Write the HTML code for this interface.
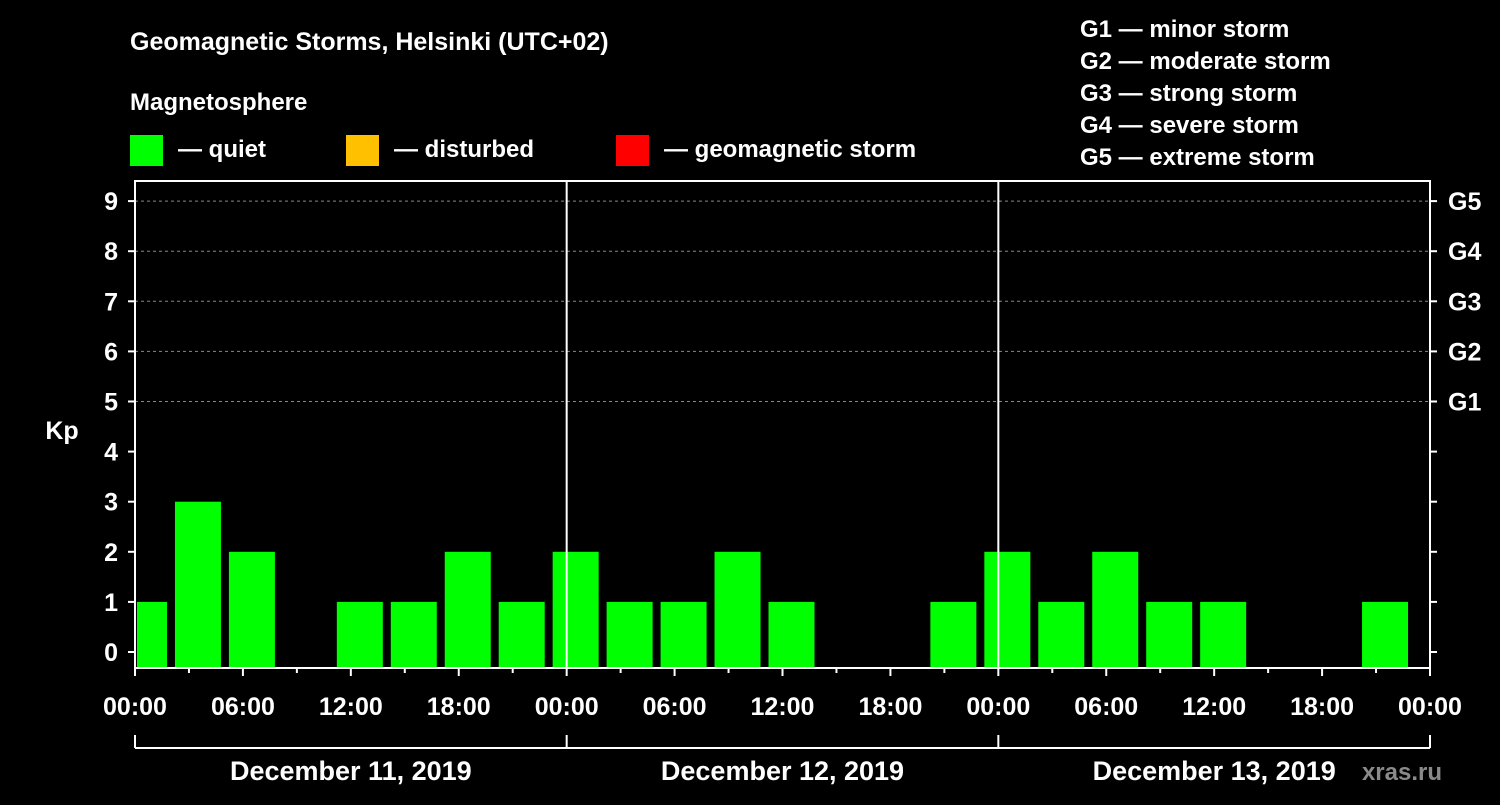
<!DOCTYPE html>
<html><head><meta charset="utf-8"><style>
body{margin:0;background:#000;}
svg text{font-family:"Liberation Sans",Arial,sans-serif;font-weight:bold;fill:#fff;}
</style></head><body>
<svg id="chart" width="1500" height="800" xmlns="http://www.w3.org/2000/svg">
<rect width="1500" height="800" fill="#000"/>
<text x="130" y="50" font-size="25">Geomagnetic Storms, Helsinki (UTC+02)</text>
<text x="130" y="110" font-size="24">Magnetosphere</text>
<g><rect x="130" y="135" width="33" height="31" fill="#00ff00"/><text x="178" y="157" font-size="24">— quiet</text></g>
<g><rect x="346" y="135" width="33" height="31" fill="#ffc000"/><text x="394" y="157" font-size="24">— disturbed</text></g>
<g><rect x="616" y="135" width="33" height="31" fill="#ff0000"/><text x="664" y="157" font-size="24">— geomagnetic storm</text></g>
<g font-size="24">
<text x="1080" y="37">G1 — minor storm</text>
<text x="1080" y="69">G2 — moderate storm</text>
<text x="1080" y="101">G3 — strong storm</text>
<text x="1080" y="133">G4 — severe storm</text>
<text x="1080" y="165">G5 — extreme storm</text>
</g>
<text x="62" y="439" font-size="25" text-anchor="middle">Kp</text>
<g id="grid"></g><g id="bars"></g><g id="axes"></g>
<text x="1442" y="780" font-size="24" text-anchor="end" fill="#888" style="fill:#8a8a8a">xras.ru</text>
</svg>
<script>
const days = ["December 11, 2019","December 12, 2019","December 13, 2019"];
const kpValues = [1,3,2,0,1,1,2,1, 2,1,1,2,1,0,0,1, 2,1,2,1,1,0,0,1];
const yTicks = [0,1,2,3,4,5,6,7,8,9];
const gLabels = ["G1","G2","G3","G4","G5"];
const xTickLabels = ["00:00","06:00","12:00","18:00"];
const NS="http://www.w3.org/2000/svg";
const L=135,R=1430,T=181,B=668;
const hourPx=(R-L)/72;
const x=h=>L+h*hourPx;
const y=v=>652-v*50.1;
function mk(tag,attrs,parent){const e=document.createElementNS(NS,tag);for(const k in attrs)e.setAttribute(k,attrs[k]);parent.appendChild(e);return e;}
const grid=document.getElementById('grid'),bars=document.getElementById('bars'),axes=document.getElementById('axes');
// grid lines for G levels
for(let v=5;v<=9;v++){const l=mk('line',{x1:L,x2:R,y1:y(v),y2:y(v),stroke:'#888','stroke-dasharray':'3,3','stroke-width':1},grid);

}
// bars
const bw=46;
kpValues.forEach((v,i)=>{if(v<=0)return;
const c=x(0.5+3*i);let x0=Math.max(c-bw/2,L+2);let x1=c+bw/2;
const r=mk('rect',{x:x0,y:y(v),width:x1-x0,height:B-y(v),fill:v>=5?'#ff0000':(v>=4?'#ffc000':'#00ff00')},bars);

});
// frame
const f=mk('rect',{x:L,y:T,width:R-L,height:B-T,fill:'none',stroke:'#fff','stroke-width':2},axes);


// day separators
[1,2].forEach(d=>{const l=mk('line',{x1:x(24*d),x2:x(24*d),y1:T,y2:B,stroke:'#fff','stroke-width':2},axes);

});
// y ticks
yTicks.forEach(v=>{mk('line',{x1:L-7,x2:L,y1:y(v),y2:y(v),stroke:'#fff','stroke-width':2},axes);
mk('line',{x1:R,x2:R+7,y1:y(v),y2:y(v),stroke:'#fff','stroke-width':2},axes);
const t=mk('text',{x:118,y:y(v)+9,'font-size':25,'text-anchor':'end'},axes);t.textContent=v;

});
gLabels.forEach((g,i)=>{const t=mk('text',{x:1448,y:y(5+i)+9,'font-size':25},axes);t.textContent=g;

});
// x ticks
for(let h=0;h<=72;h+=6){mk('line',{x1:x(h),x2:x(h),y1:B,y2:B+8,stroke:'#fff','stroke-width':2},axes);
const t=mk('text',{x:x(h),y:715,'font-size':25,'text-anchor':'middle'},axes);t.textContent=xTickLabels[(h/6)%4];

}
for(let h=3;h<72;h+=6)mk('line',{x1:x(h),x2:x(h),y1:B,y2:B+5,stroke:'#fff','stroke-width':2},axes);
// date bracket
mk('line',{x1:L,x2:R,y1:748,y2:748,stroke:'#fff','stroke-width':2},axes);
for(let d=0;d<=3;d++)mk('line',{x1:x(24*d),x2:x(24*d),y1:735,y2:748,stroke:'#fff','stroke-width':2},axes);
days.forEach((d,i)=>{const t=mk('text',{x:x(24*i+12),y:780,'font-size':27,'text-anchor':'middle'},axes);t.textContent=d;

});
</script>
</body></html>
